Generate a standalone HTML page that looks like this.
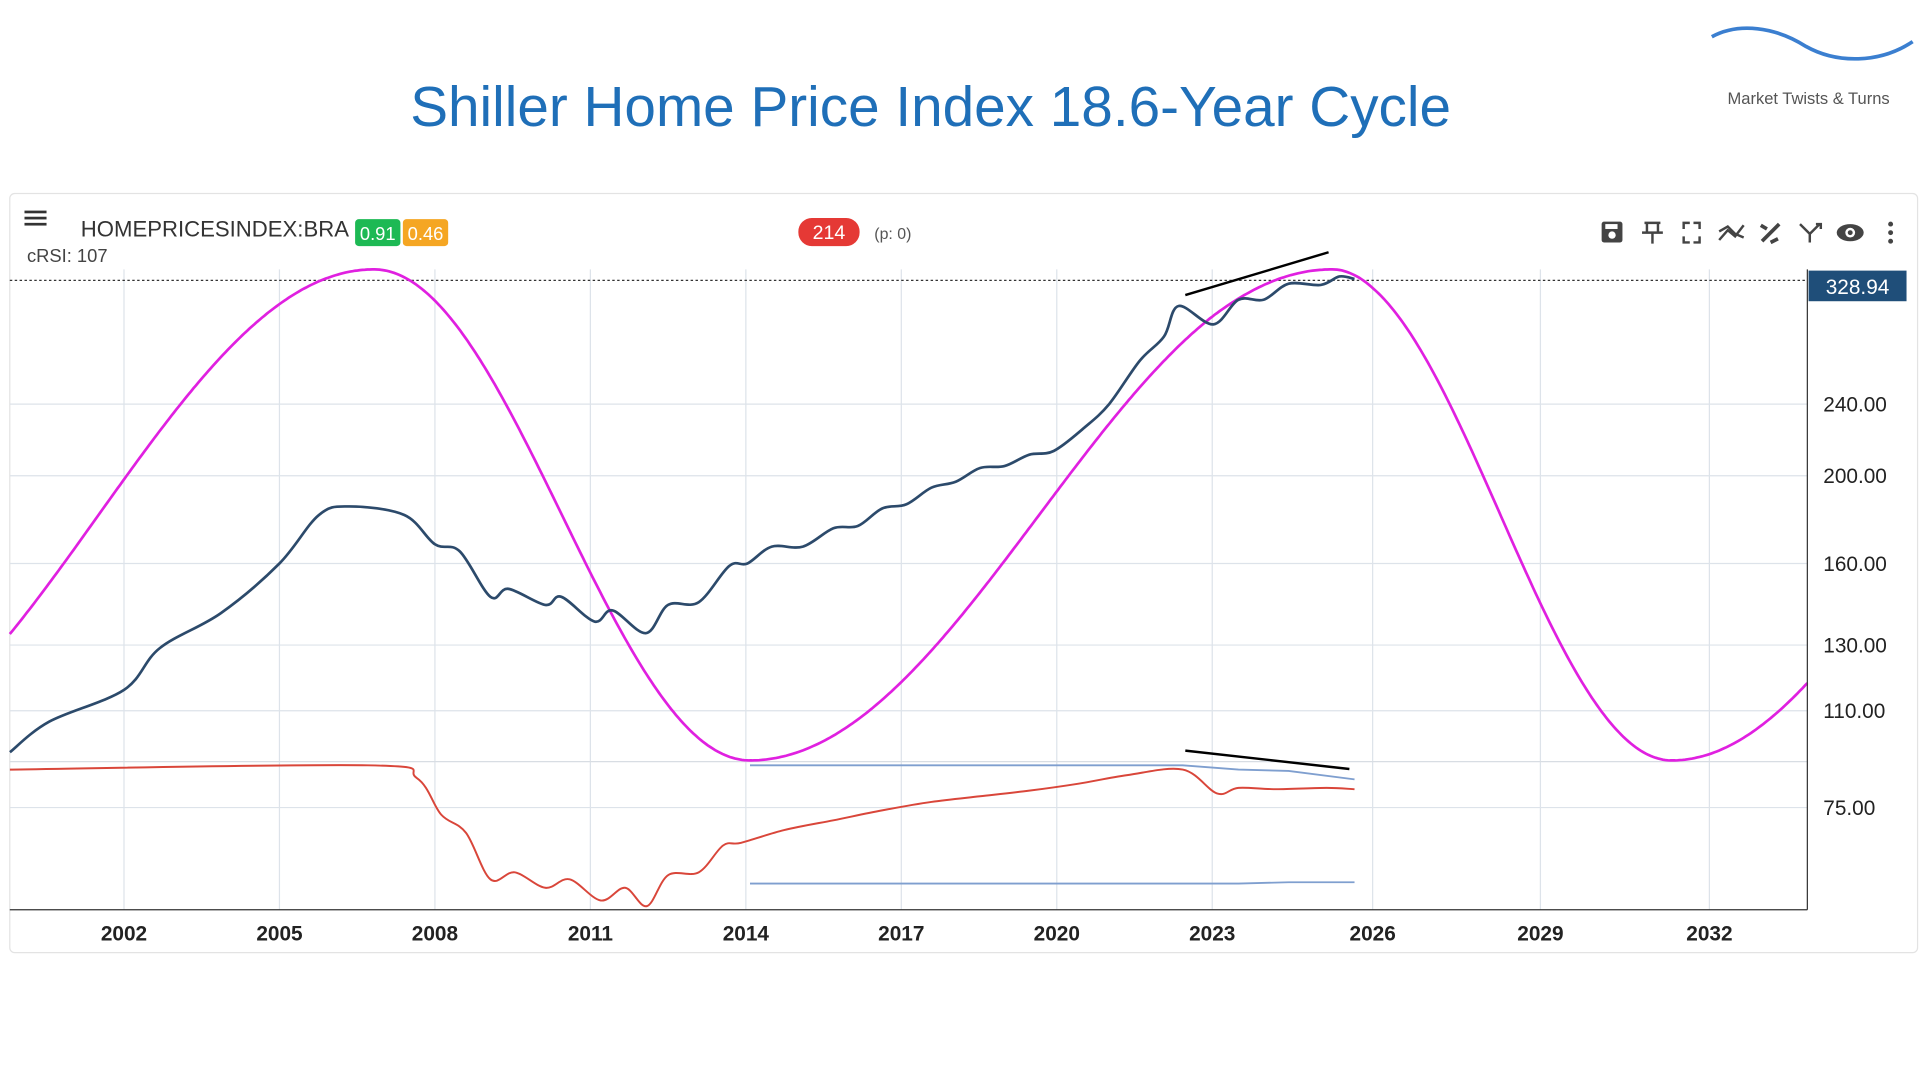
<!DOCTYPE html>
<html><head><meta charset="utf-8"><style>
html,body{margin:0;padding:0;background:#fff;width:1920px;height:1080px;overflow:hidden}
svg{display:block;font-family:"Liberation Sans",sans-serif}
</style></head><body>
<svg id="c" width="1920" height="1080" viewBox="0 0 1568 882">
<text x="760" y="103" text-anchor="middle" font-size="46" textLength="850" lengthAdjust="spacingAndGlyphs" fill="#1f6fb8">Shiller Home Price Index 18.6-Year Cycle</text>
<g>
<path d="M1398,30 C1420,18 1450,22 1475,38 C1500,52 1535,52 1562,34" stroke="#3b7fd0" stroke-width="3" fill="none"/>
<text x="1477" y="85" text-anchor="middle" font-size="13.5" fill="#555">Market Twists &amp; Turns</text>
</g>
<rect x="8" y="158" width="1558" height="620" rx="4" fill="#fff" stroke="#e3e3e3"/>
<g id="grid"></g>
<line x1="8" y1="622" x2="1476" y2="622" stroke="#d8dde3"/>
<line x1="8" y1="229" x2="1476" y2="229" stroke="#333" stroke-dasharray="2,2"/>
<g id="series"></g>
<line x1="1476" y1="220" x2="1476" y2="743" stroke="#333"/>
<line x1="8" y1="743" x2="1476" y2="743" stroke="#333"/>
<g id="ticks"></g>
<rect x="1477" y="221" width="80" height="25" fill="#1f4e79"/>
<text x="1517" y="240" text-anchor="middle" font-size="17" fill="#fff">328.94</text>
<g>
<g fill="#333"><rect x="20" y="172" width="18" height="2.2"/><rect x="20" y="177" width="18" height="2.2"/><rect x="20" y="182" width="18" height="2.2"/></g>
<text x="66" y="193" font-size="18" fill="#333" textLength="219" lengthAdjust="spacingAndGlyphs">HOMEPRICESINDEX:BRA</text>
<rect x="290" y="179" width="37" height="22" rx="3" fill="#1db954"/>
<text x="308.5" y="196" text-anchor="middle" font-size="15" fill="#fff">0.91</text>
<rect x="329" y="179" width="37" height="22" rx="3" fill="#f5a623"/>
<text x="347.5" y="196" text-anchor="middle" font-size="15" fill="#fff">0.46</text>
<rect x="652" y="178" width="50" height="23" rx="11" fill="#e53935"/>
<text x="677" y="195" text-anchor="middle" font-size="16" fill="#fff">214</text>
<text x="714" y="195" font-size="13" fill="#555">(p: 0)</text>
<text x="22" y="214" font-size="15" fill="#444">cRSI: 107</text>
</g>
<g fill="#444" stroke="#444">
<g><rect x="1308" y="181" width="17" height="17" rx="2" stroke="none"/><circle cx="1316.5" cy="192" r="3" fill="#fff" stroke="none"/><rect x="1311" y="183" width="10" height="4" fill="#fff" stroke="none"/></g>
<g fill="none" stroke-width="2"><path d="M1343,182h13M1345,182v8h9v-8M1341,190h17M1349.5,190v9"/></g>
<g fill="none" stroke-width="2"><path d="M1375,187v-5h5M1383,182h5v5M1388,193v5h-5M1380,198h-5v-5"/></g>
<g fill="none" stroke-width="2"><path d="M1404,196l7,-8l6,5l7,-9M1404,189l7,-4l6,6l7,3"/></g>
<g fill="none" stroke-width="3"><path d="M1439,197l14,-14M1438,184l5,3M1446,198l6,-3"/></g>
<g fill="none" stroke-width="2"><path d="M1470,183l8,8l8,-8M1478,191v7M1483,183h4v4"/></g>
<g><ellipse cx="1511" cy="190" rx="11" ry="7" stroke="none"/><circle cx="1511" cy="190" r="4" fill="#fff" stroke="none"/><circle cx="1511" cy="190" r="2" stroke="none"/></g>
<g stroke="none"><circle cx="1544" cy="183" r="2"/><circle cx="1544" cy="190" r="2"/><circle cx="1544" cy="197" r="2"/></g>
</g>
</svg>
<script>
const xTickYears=[2002,2005,2008,2011,2014,2017,2020,2023,2026,2029,2032];
const yTickValues=[240,200,160,130,110];
const yTickLabels=["240.00","200.00","160.00","130.00","110.00"];
const indTickValues=[70];
const indTickLabels=["75.00"];
const priceYears=[1999.8,2000.56,2002,2002.69,2003.87,2005,2005.76,2006.35,2007.41,2008,2008.48,2009.07,2009.42,2010.13,2010.44,2011.08,2011.43,2012.07,2012.5,2013.09,2013.68,2014.03,2014.5,2015.1,2015.69,2016.16,2016.63,2017.1,2017.58,2018.05,2018.52,2018.99,2019.47,2019.94,2020.53,2021.01,2021.6,2022.07,2022.35,2023.02,2023.49,2023.96,2024.43,2025.03,2025.38,2025.66];
const priceValues=[99,107,116,129,141,160,181,185,181,168,165,147,150,144,147,138,142,134,144,145,159,160,167,167,175,176,184,186,194,197,204,205,211,213,226,240,268,285,308,294,313,313,326,325,332,330];
const cycleTurnYears=[1996.2,2006.82,2014.08,2025.24,2031.33,2040.6];
const cycleTurnLevels=[0,1,0,1,0,1];
const indYears=[1999.8,2006.7,2007.65,2008.12,2008.6,2009.07,2009.54,2010.13,2010.6,2011.2,2011.67,2012.09,2012.5,2013.09,2013.56,2013.91,2014.74,2015.69,2016.63,2017.58,2018.52,2019.47,2020.42,2021.36,2022.43,2023.09,2023.49,2024.2,2025.14,2025.66];
const indValues=[97,100,91,65,52,19,24,13,19,4,13,0,22,24,43,45,54,61,68,74,78,82,87,93,97,80,84,83,84,83];
const bandYears=[2014.08,2022.43,2023.49,2024.43,2025.66];
const bandUpper=[100,100,97,96,90];
const bandLower=[16,16,16,17,17];
const NS='http://www.w3.org/2000/svg';
const X0=8,X1=1476;
// time axis: historical bars 42.3px/yr, future projection slightly wider
const axisKnotYears=[1990,2023,2026,2029,2040];
const axisKnotPx=[-406.6,990,1121,1258,1764];
function x(yr){
 let k=0;while(k<axisKnotYears.length-2&&yr>axisKnotYears[k+1])k++;
 const f=(yr-axisKnotYears[k])/(axisKnotYears[k+1]-axisKnotYears[k]);
 return axisKnotPx[k]+f*(axisKnotPx[k+1]-axisKnotPx[k]);
}
function xInv(px){
 let k=0;while(k<axisKnotPx.length-2&&px>axisKnotPx[k+1])k++;
 const f=(px-axisKnotPx[k])/(axisKnotPx[k+1]-axisKnotPx[k]);
 return axisKnotYears[k]+f*(axisKnotYears[k+1]-axisKnotYears[k]);
}
function yP(v){return 330-Math.log(v/240)*321;}
function yI(v){return 740-v*1.15;}
function yC(l){return 621-l*401;}
function mk(tag,attrs,parent){const e=document.createElementNS(NS,tag);for(const k in attrs)e.setAttribute(k,attrs[k]);parent.appendChild(e);return e;}
const grid=document.getElementById('grid'),ticks=document.getElementById('ticks'),series=document.getElementById('series');
xTickYears.forEach(yr=>{
 const l=mk('line',{x1:x(yr),x2:x(yr),y1:220,y2:743,stroke:'#dde3ea'},grid);
 
 
 const t=mk('text',{x:x(yr),y:768,'text-anchor':'middle','font-size':17,'font-weight':'bold',fill:'#222'},ticks);
 t.textContent=yr;
 
 
});
yTickValues.forEach((v,i)=>{
 const l=mk('line',{x1:X0,x2:X1,y1:yP(v),y2:yP(v),stroke:'#dde3ea'},grid);
 
 
 const t=mk('text',{x:1489,y:yP(v)+6,'font-size':17,fill:'#222'},ticks);
 t.textContent=yTickLabels[i];
 
 
});
indTickValues.forEach((v,i)=>{
 const l=mk('line',{x1:X0,x2:X1,y1:yI(v),y2:yI(v),stroke:'#dde3ea'},grid);
 
 
 const t=mk('text',{x:1489,y:yI(v)+6,'font-size':17,fill:'#222'},ticks);
 t.textContent=indTickLabels[i];
 
 
});
function smooth(xs,ys,fx,fy){
 const p=xs.map((a,i)=>[fx(a),fy(ys[i])]);
 let s='M'+p[0][0].toFixed(1)+','+p[0][1].toFixed(1);
 for(let i=0;i<p.length-1;i++){
  const p0=p[Math.max(0,i-1)],p1=p[i],p2=p[i+1],p3=p[Math.min(p.length-1,i+2)];
  const c1=[p1[0]+(p2[0]-p0[0])/6,p1[1]+(p2[1]-p0[1])/6],c2=[p2[0]-(p3[0]-p1[0])/6,p2[1]-(p3[1]-p1[1])/6];
  s+='C'+c1[0].toFixed(1)+','+c1[1].toFixed(1)+' '+c2[0].toFixed(1)+','+c2[1].toFixed(1)+' '+p2[0].toFixed(1)+','+p2[1].toFixed(1);
 }
 return s;
}
function pathFrom(xs,ys,fx,fy){return xs.map((a,i)=>(i?'L':'M')+fx(a).toFixed(1)+','+fy(ys[i]).toFixed(1)).join('');}
let d='';
for(let px=X0;px<=X1;px+=2){
 const yr=xInv(px);
 let k=0;while(k<cycleTurnYears.length-2&&yr>cycleTurnYears[k+1])k++;
 const f=(yr-cycleTurnYears[k])/(cycleTurnYears[k+1]-cycleTurnYears[k]);
 const a=cycleTurnLevels[k],b=cycleTurnLevels[k+1];
 const lv=a+(b-a)*(1-Math.cos(Math.PI*f))/2;
 d+=(d?'L':'M')+px+','+yC(lv).toFixed(1);
}
const cyc=mk('path',{d:d,fill:'none',stroke:'#e020e0','stroke-width':2.2},series);


const bu=mk('path',{d:pathFrom(bandYears,bandUpper,x,yI),fill:'none',stroke:'#7f9fcf','stroke-width':1.5},series);


const bl=mk('path',{d:pathFrom(bandYears,bandLower,x,yI),fill:'none',stroke:'#7f9fcf','stroke-width':1.5},series);


const ind=mk('path',{d:smooth(indYears,indValues,x,yI),fill:'none',stroke:'#d9463a','stroke-width':1.6,'stroke-linejoin':'round'},series);


const pr=mk('path',{d:smooth(priceYears,priceValues,x,yP),fill:'none',stroke:'#2c4a6b','stroke-width':2.2,'stroke-linejoin':'round'},series);


const t1=mk('line',{x1:968,y1:241,x2:1085,y2:206,stroke:'#000','stroke-width':2},series);


const t2=mk('line',{x1:968,y1:613,x2:1102,y2:628,stroke:'#000','stroke-width':2},series);


</script>
</body></html>
